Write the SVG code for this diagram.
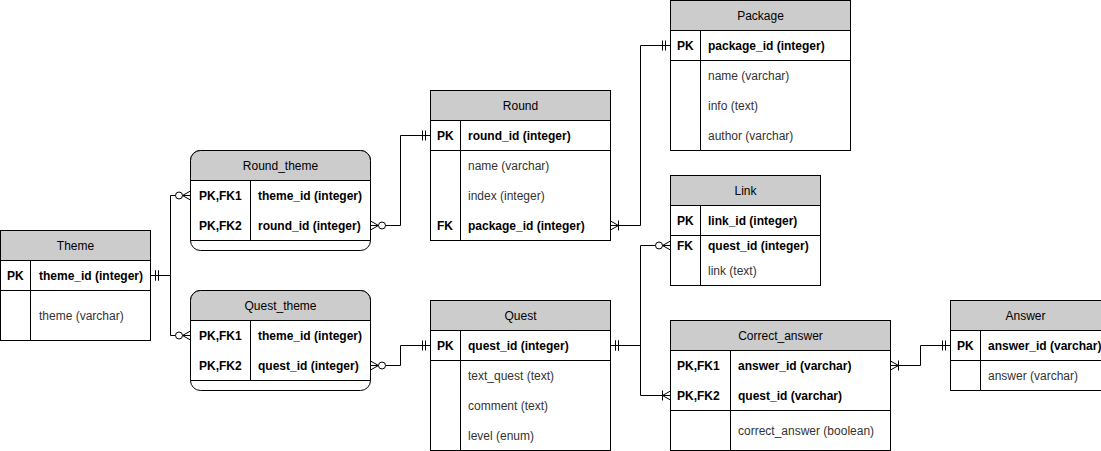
<svg xmlns="http://www.w3.org/2000/svg" width="1101" height="451" viewBox="0 0 1101 451">
<style>
text{font-family:"Liberation Sans",Arial,sans-serif;font-size:12px;fill:#000}
.h{text-anchor:middle}
.b{font-weight:bold}
.n{fill:#333}
.box{fill:#fff;stroke:#000;stroke-width:1}
.hd{fill:#ccc;stroke:#000;stroke-width:1}
.ln{stroke:#000;stroke-width:1;fill:none}
.c{fill:none;stroke:#000;stroke-width:1}
</style>
<defs>
<marker id="one" markerUnits="userSpaceOnUse" orient="auto-start-reverse" refX="0" refY="0" markerWidth="20" markerHeight="20" overflow="visible">
<path d="M-5,-5V5M-8,-5V5" stroke="#000" stroke-width="1" fill="none"/>
</marker>
<marker id="zmany" markerUnits="userSpaceOnUse" orient="auto-start-reverse" refX="0" refY="0" markerWidth="20" markerHeight="20" overflow="visible">
<path d="M-8,0L0,-4.5M-8,0L0,4.5" stroke="#000" stroke-width="1" fill="none"/>
<circle cx="-11.5" cy="0" r="3.5" fill="#fff" stroke="#000" stroke-width="1"/>
</marker>
<marker id="omany" markerUnits="userSpaceOnUse" orient="auto-start-reverse" refX="0" refY="0" markerWidth="20" markerHeight="20" overflow="visible">
<path d="M-8,0L0,-4.5M-8,0L0,4.5M-8,-5V5" stroke="#000" stroke-width="1" fill="none"/>
</marker>
</defs>

<g id="connectors">
<path class="c" d="M150.5,275.5H170.5V195.5H190.5" marker-start="url(#one)" marker-end="url(#zmany)"/>
<path class="c" d="M150.5,275.5H170.5V335.5H190.5" marker-start="url(#one)" marker-end="url(#zmany)"/>
<path class="c" d="M370.5,225.5H400.5V135.5H430.5" marker-start="url(#zmany)" marker-end="url(#one)"/>
<path class="c" d="M370.5,365.5H400.5V345.5H430.5" marker-start="url(#zmany)" marker-end="url(#one)"/>
<path class="c" d="M610.5,225.5H640.5V45.5H670.5" marker-start="url(#omany)" marker-end="url(#one)"/>
<path class="c" d="M610.5,345.5H640.5V245.5H670.5" marker-start="url(#one)" marker-end="url(#zmany)"/>
<path class="c" d="M610.5,345.5H640.5V395.5H670.5" marker-start="url(#one)" marker-end="url(#omany)"/>
<path class="c" d="M890.5,365.5H920.5V345.5H950.5" marker-start="url(#omany)" marker-end="url(#one)"/>
</g>

<g id="Theme">
<rect class="box" x="0.5" y="230.5" width="150" height="110"/>
<rect class="hd" x="0.5" y="230.5" width="150" height="30"/>
<path class="ln" d="M0.5,290.5H150.5M30.5,260.5V340.5"/>
<text class="h" x="75.5" y="250">Theme</text>
<text class="b" x="7" y="280">PK</text>
<text class="b" x="39" y="280">theme_id (integer)</text>
<text class="n" x="39" y="320">theme (varchar)</text>
</g>

<g id="Round_theme">
<rect class="box" x="190.5" y="150.5" width="180" height="100" rx="10" ry="10"/>
<path class="hd" d="M190.5,180.5V160.5A10,10 0 0 1 200.5,150.5H360.5A10,10 0 0 1 370.5,160.5V180.5Z"/>
<path class="ln" d="M190.5,240.5H370.5M250.5,180.5V240.5"/>
<text class="h" x="280.5" y="170">Round_theme</text>
<text class="b" x="199" y="200">PK,FK1</text>
<text class="b" x="258" y="200">theme_id (integer)</text>
<text class="b" x="199" y="230">PK,FK2</text>
<text class="b" x="258" y="230">round_id (integer)</text>
</g>

<g id="Quest_theme">
<rect class="box" x="190.5" y="290.5" width="180" height="100" rx="10" ry="10"/>
<path class="hd" d="M190.5,320.5V300.5A10,10 0 0 1 200.5,290.5H360.5A10,10 0 0 1 370.5,300.5V320.5Z"/>
<path class="ln" d="M190.5,380.5H370.5M250.5,320.5V380.5"/>
<text class="h" x="280.5" y="310">Quest_theme</text>
<text class="b" x="199" y="340">PK,FK1</text>
<text class="b" x="258" y="340">theme_id (integer)</text>
<text class="b" x="199" y="370">PK,FK2</text>
<text class="b" x="258" y="370">quest_id (integer)</text>
</g>

<g id="Round">
<rect class="box" x="430.5" y="90.5" width="180" height="150"/>
<rect class="hd" x="430.5" y="90.5" width="180" height="30"/>
<path class="ln" d="M430.5,150.5H610.5M460.5,120.5V240.5"/>
<text class="h" x="520.5" y="110">Round</text>
<text class="b" x="437" y="140">PK</text>
<text class="b" x="468" y="140">round_id (integer)</text>
<text class="n" x="468" y="170">name (varchar)</text>
<text class="n" x="468" y="200">index (integer)</text>
<text class="b" x="437" y="230">FK</text>
<text class="b" x="468" y="230">package_id (integer)</text>
</g>

<g id="Package">
<rect class="box" x="670.5" y="0.5" width="180" height="150"/>
<rect class="hd" x="670.5" y="0.5" width="180" height="30"/>
<path class="ln" d="M670.5,60.5H850.5M700.5,30.5V150.5"/>
<text class="h" x="760.5" y="20">Package</text>
<text class="b" x="677" y="50">PK</text>
<text class="b" x="708" y="50">package_id (integer)</text>
<text class="n" x="708" y="80">name (varchar)</text>
<text class="n" x="708" y="110">info (text)</text>
<text class="n" x="708" y="140">author (varchar)</text>
</g>

<g id="Link">
<rect class="box" x="670.5" y="175.5" width="150" height="110"/>
<rect class="hd" x="670.5" y="175.5" width="150" height="30"/>
<path class="ln" d="M670.5,235.5H820.5M700.5,205.5V285.5"/>
<text class="h" x="745.5" y="195">Link</text>
<text class="b" x="677" y="225">PK</text>
<text class="b" x="708" y="225">link_id (integer)</text>
<text class="b" x="677" y="250">FK</text>
<text class="b" x="708" y="250">quest_id (integer)</text>
<text class="n" x="708" y="275">link (text)</text>
</g>

<g id="Quest">
<rect class="box" x="430.5" y="300.5" width="180" height="150"/>
<rect class="hd" x="430.5" y="300.5" width="180" height="30"/>
<path class="ln" d="M430.5,360.5H610.5M460.5,330.5V450.5"/>
<text class="h" x="520.5" y="320">Quest</text>
<text class="b" x="437" y="350">PK</text>
<text class="b" x="468" y="350">quest_id (integer)</text>
<text class="n" x="468" y="380">text_quest (text)</text>
<text class="n" x="468" y="410">comment (text)</text>
<text class="n" x="468" y="440">level (enum)</text>
</g>

<g id="Correct_answer">
<rect class="box" x="670.5" y="320.5" width="220" height="130"/>
<rect class="hd" x="670.5" y="320.5" width="220" height="30"/>
<path class="ln" d="M670.5,410.5H890.5M730.5,350.5V450.5"/>
<text class="h" x="780.5" y="340">Correct_answer</text>
<text class="b" x="677" y="370">PK,FK1</text>
<text class="b" x="738" y="370">answer_id (varchar)</text>
<text class="b" x="677" y="400">PK,FK2</text>
<text class="b" x="738" y="400">quest_id (varchar)</text>
<text class="n" x="738" y="435">correct_answer (boolean)</text>
</g>

<g id="Answer">
<rect class="box" x="950.5" y="300.5" width="160" height="90"/>
<rect class="hd" x="950.5" y="300.5" width="160" height="30"/>
<path class="ln" d="M950.5,360.5H1110.5M980.5,330.5V390.5"/>
<text class="h" x="1025.5" y="320">Answer</text>
<text class="b" x="957" y="350">PK</text>
<text class="b" x="988" y="350">answer_id (varchar)</text>
<text class="n" x="988" y="380">answer (varchar)</text>
</g>
</svg>
